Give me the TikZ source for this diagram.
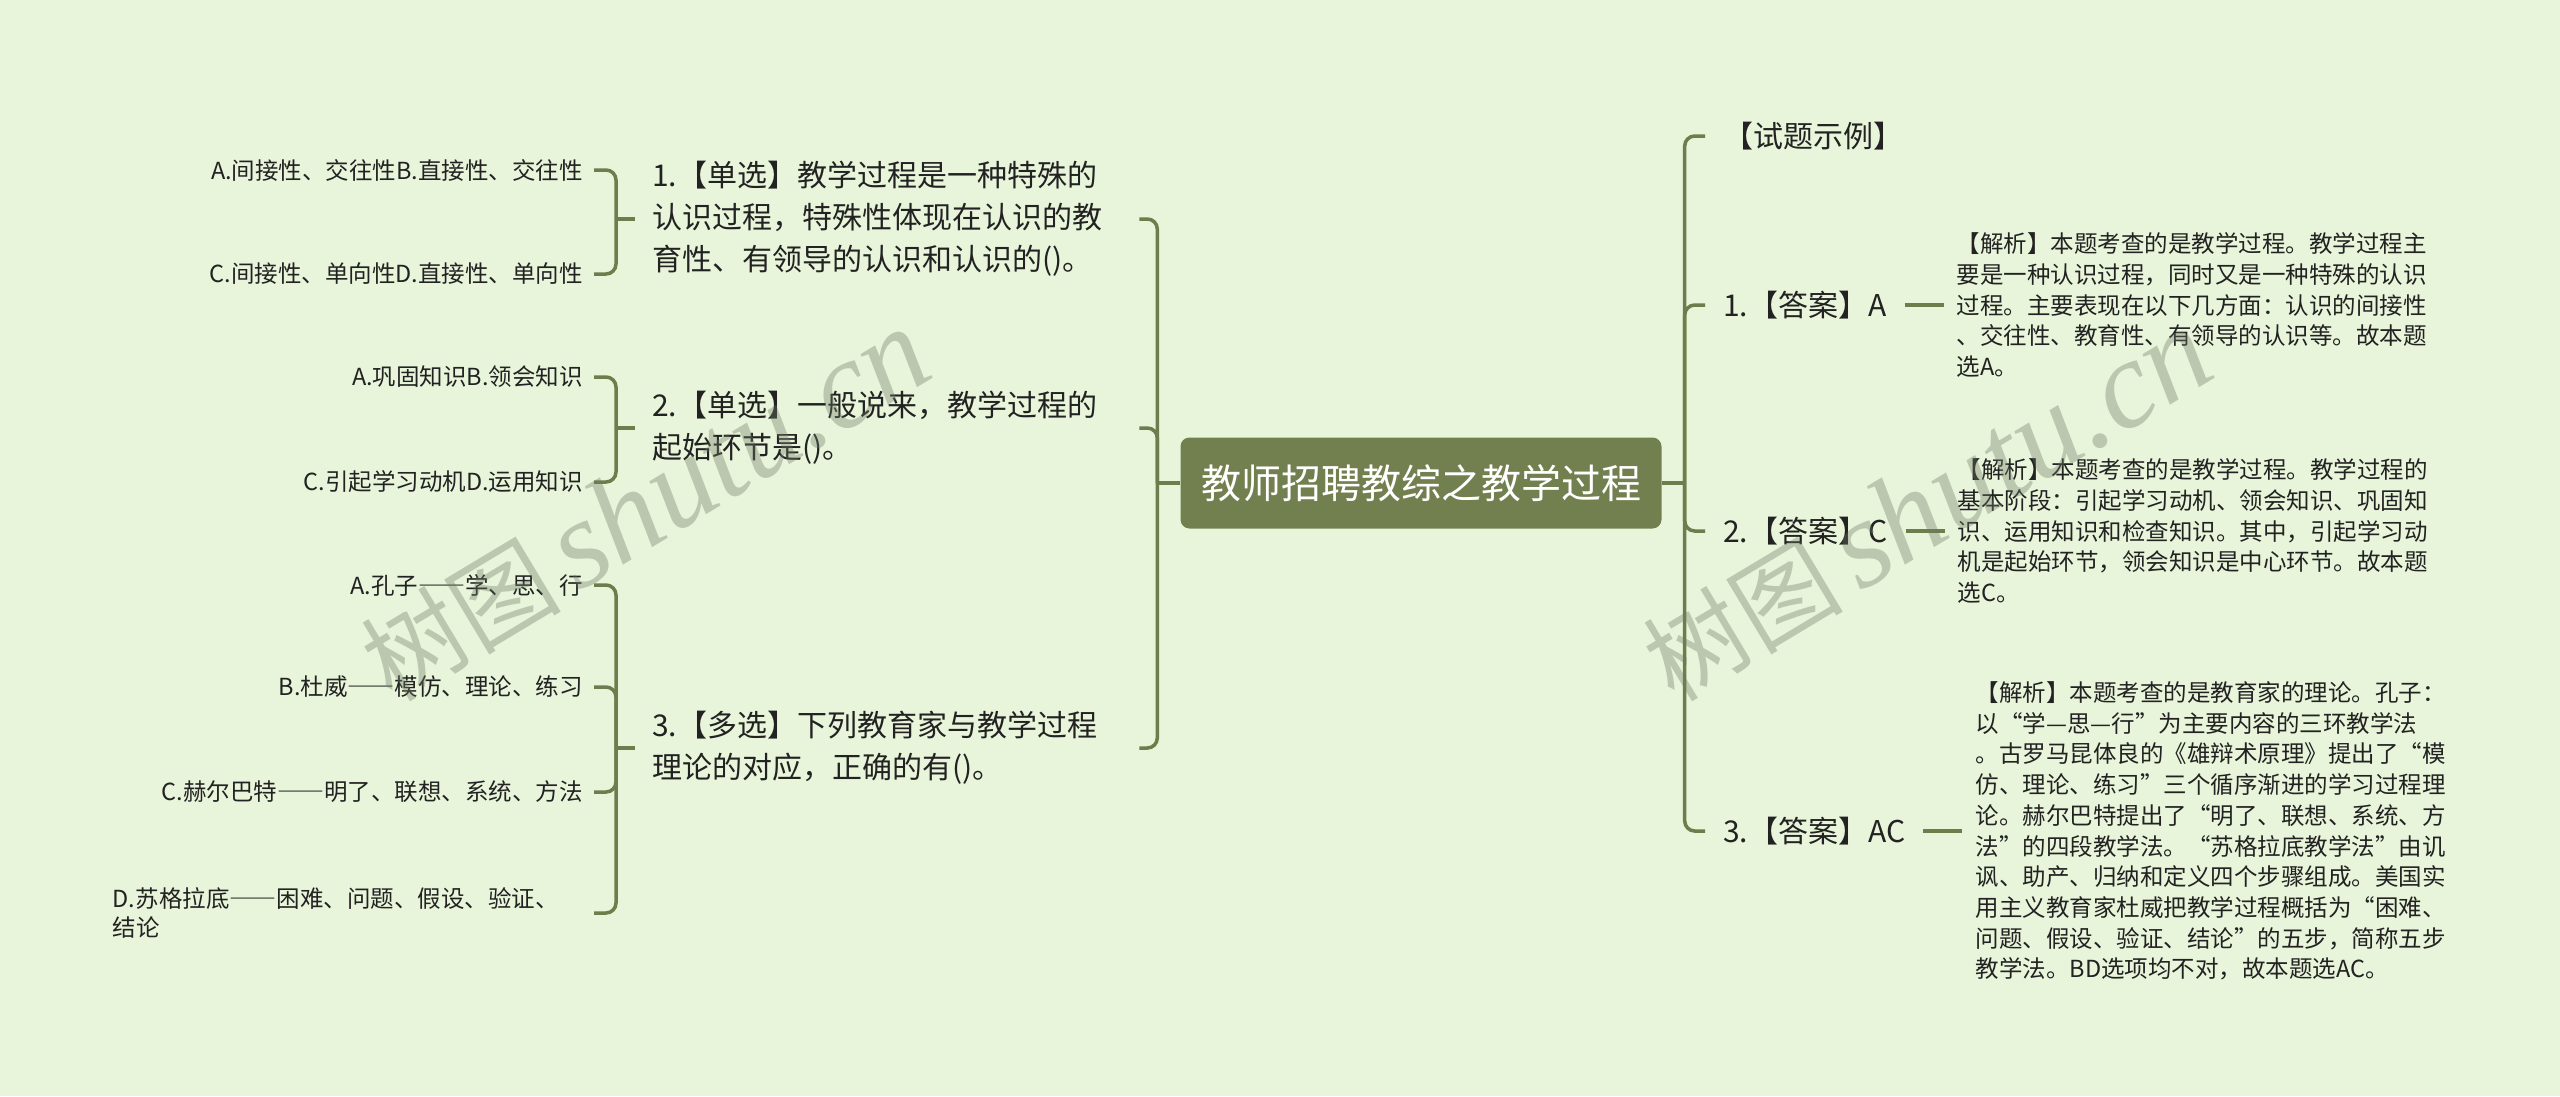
\documentclass[tikz,border=0pt]{standalone}
\usepackage{xcolor}
\usepackage{fontspec}
\usepackage{tikz}
\usetikzlibrary{positioning}
\setmainfont{Noto Sans CJK SC}
\newfontfamily\wmfont{Liberation Serif}
\newcommand\wdash{{\addfontfeature{CharacterWidth=Full}——}}
\definecolor{bgcol}{RGB}{232,245,218}
\definecolor{rootcol}{RGB}{114,128,80}
\definecolor{linecol}{RGB}{110,125,76}
\definecolor{txtcol}{RGB}{34,34,34}
\definecolor{wmcol}{RGB}{110,122,100}

\begin{document}
\begin{tikzpicture}[x=1pt,y=-1pt,text=txtcol,
  link/.style={draw=linecol,line width=3.5pt,rounded corners=10pt},
  root node/.style={fill=rootcol,rounded corners=9pt,text=white,minimum width=481pt,minimum height=91pt,font=\fontsize{40}{48}\selectfont},
  ques node/.style={anchor=west,align=left,text width=470pt,inner xsep=17pt,inner ysep=2pt,font=\fontsize{30}{42}\selectfont},
  opt node/.style={anchor=east,align=right,inner xsep=11pt,inner ysep=2pt,font=\fontsize{23.5}{29.5}\selectfont},
  ans node/.style={anchor=west,inner xsep=18pt,inner ysep=2pt,font=\fontsize{30}{36}\selectfont},
  note node/.style={align=left,text width=475pt,inner xsep=13pt,inner ysep=2pt,font=\fontsize{23.5}{30.7}\selectfont},
  mark node/.style={text=wmcol,text opacity=0.36,rotate=31}]
  \path[use as bounding box,fill=bgcol] (0,0) rectangle (2560,1096);

  \node[root node] (root) at (1421,483) {教师招聘教综之教学过程};

  \node[ques node] (q1) at (635,219) {1.【单选】教学过程是一种特殊的\\认识过程，特殊性体现在认识的教\\育性、有领导的认识和认识的()。};
  \node[ques node] (q2) at (635,428) {2.【单选】一般说来，教学过程的\\起始环节是()。};
  \node[ques node] (q3) at (635,748) {3.【多选】下列教育家与教学过程\\理论的对应，正确的有()。};

  \node[opt node] (q1a) at (594,170) {A.间接性、交往性B.直接性、交往性};
  \node[opt node] (q1c) at (594,274) {C.间接性、单向性D.直接性、单向性};
  \node[opt node] (q2a) at (594,377) {A.巩固知识B.领会知识};
  \node[opt node] (q2c) at (594,482) {C.引起学习动机D.运用知识};
  \node[opt node] (q3a) at (594,585) {A.孔子\wdash 学、思、行};
  \node[opt node] (q3b) at (594,687) {B.杜威\wdash 模仿、理论、练习};
  \node[opt node] (q3c) at (594,792) {C.赫尔巴特\wdash 明了、联想、系统、方法};
  \node[opt node,align=left,text width=470pt] (q3d) at (594,913) {D.苏格拉底\wdash 困难、问题、假设、验证、\\结论};

  \node[ans node] (title) at (1705,136) {【试题示例】};
  \node[ans node] (a1) at (1705,305) {1.【答案】A};
  \node[ans node] (a2) at (1705,531) {2.【答案】C};
  \node[ans node] (a3) at (1705,831) {3.【答案】AC};

  \node[note node,right=39pt of a1] (e1) {【解析】本题考查的是教学过程。教学过程主\\要是一种认识过程，同时又是一种特殊的认识\\过程。主要表现在以下几方面：认识的间接性\\、交往性、教育性、有领导的认识等。故本题\\选A。};
  \node[note node,right=39pt of a2] (e2) {【解析】本题考查的是教学过程。教学过程的\\基本阶段：引起学习动机、领会知识、巩固知\\识、运用知识和检查知识。其中，引起学习动\\机是起始环节，领会知识是中心环节。故本题\\选C。};
  \node[note node,right=39pt of a3] (e3) {【解析】本题考查的是教育家的理论。孔子：\\以“学—思—行”为主要内容的三环教学法\\。古罗马昆体良的《雄辩术原理》提出了“模\\仿、理论、练习”三个循序渐进的学习过程理\\论。赫尔巴特提出了“明了、联想、系统、方\\法”的四段教学法。“苏格拉底教学法”由讥\\讽、助产、归纳和定义四个步骤组成。美国实\\用主义教育家杜威把教学过程概括为“困难、\\问题、假设、验证、结论”的五步，简称五步\\教学法。BD选项均不对，故本题选AC。};

  \draw[link] (root.west) -- ++(-23,0) coordinate (lj);
  \draw[link] (lj) |- (q1.east);
  \draw[link] (lj) |- (q2.east);
  \draw[link] (lj) |- (q3.east);
  \draw[link] (q1.west) -- ++(-19,0) coordinate (q1j);
  \draw[link] (q1j) |- (q1a.east);
  \draw[link] (q1j) |- (q1c.east);
  \draw[link] (q2.west) -- ++(-19,0) coordinate (q2j);
  \draw[link] (q2j) |- (q2a.east);
  \draw[link] (q2j) |- (q2c.east);
  \draw[link] (q3.west) -- ++(-19,0) coordinate (q3j);
  \draw[link] (q3j) |- (q3a.east);
  \draw[link] (q3j) |- (q3b.east);
  \draw[link] (q3j) |- (q3c.east);
  \draw[link] (q3j) |- (q3d.east);

  \draw[link] (root.east) -- ++(23,0) coordinate (rj);
  \draw[link] (rj) |- (title.west);
  \draw[link] (rj) |- (a1.west);
  \draw[link] (rj) |- (a2.west);
  \draw[link] (rj) |- (a3.west);
  \draw[link] (a1) -- (e1);
  \draw[link] (a2) -- (e2);
  \draw[link] (a3) -- (e3);

  \node[mark node] (wm1) at (645,506) {\fontsize{100}{100}\selectfont 树图\,\wmfont\itshape\fontsize{125}{125}\selectfont shutu.cn};
  \node[mark node] (wm2) at (1927,506) {\fontsize{100}{100}\selectfont 树图\,\wmfont\itshape\fontsize{125}{125}\selectfont shutu.cn};
\end{tikzpicture}
\end{document}
